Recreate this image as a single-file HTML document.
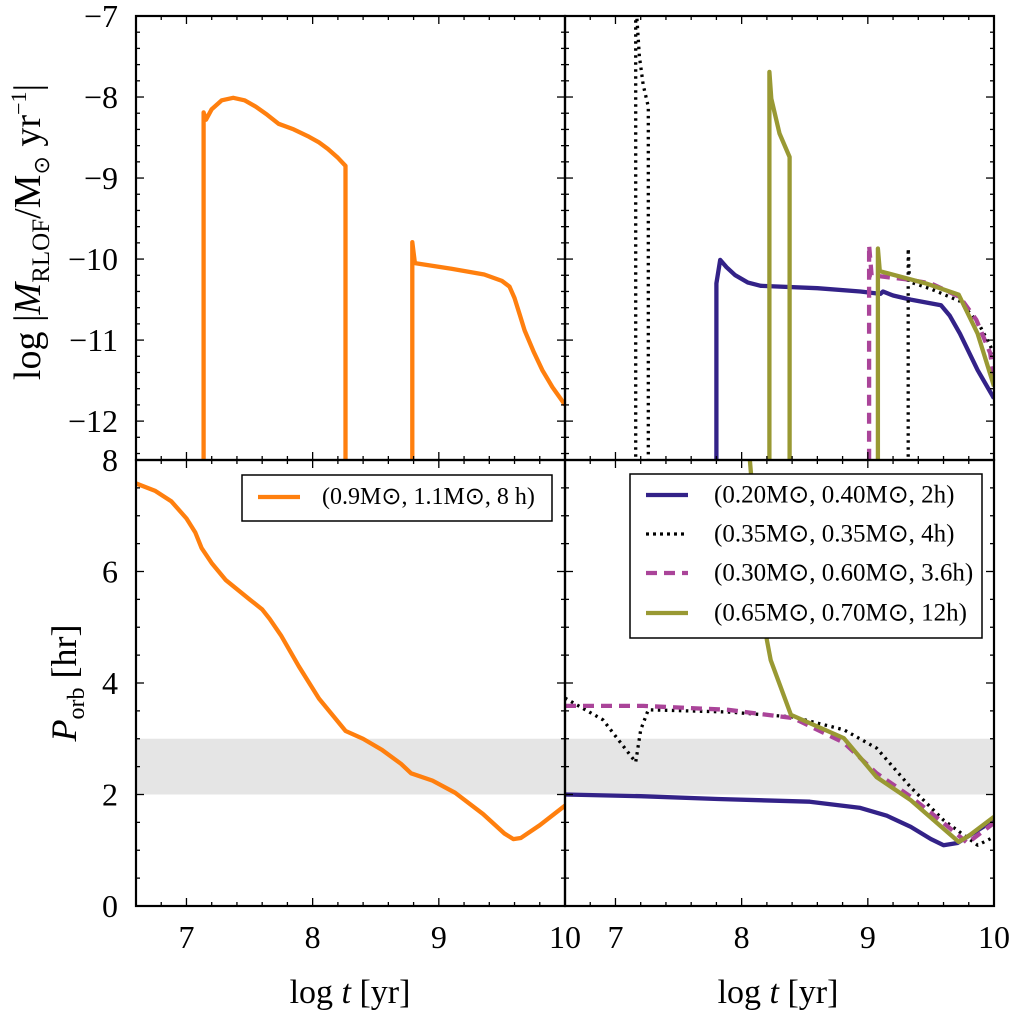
<!DOCTYPE html>
<html><head><meta charset="utf-8">
<style>
html,body{margin:0;padding:0;background:#fff;}
svg{display:block;font-family:"Liberation Serif",serif;}
</style></head>
<body>
<svg id="fig" width="1010" height="1013" viewBox="0 0 1010 1013" xmlns="http://www.w3.org/2000/svg">
<defs>
<clipPath id="clipTL"><rect x="136" y="16" width="429" height="444"/></clipPath>
<clipPath id="clipTR"><rect x="565" y="16" width="429" height="444"/></clipPath>
<clipPath id="clipBL"><rect x="136" y="460" width="429" height="446"/></clipPath>
<clipPath id="clipBR"><rect x="565" y="460" width="429" height="446"/></clipPath>
</defs>
<g id="layer"></g>
</svg>
<script>
// ---- data ----
const xTicks = [7, 8, 9, 10];
const yTicksTop = [-7, -8, -9, -10, -11, -12];
const yTicksBot = [0, 2, 4, 6, 8];
const gapBand = [2, 3];
// orange (0.9, 1.1, 8h)
const orangeMdotA = [[7.136,-12.7],[7.136,-8.19],[7.155,-8.28],[7.2,-8.15],[7.28,-8.04],[7.37,-8.01],[7.46,-8.04],[7.55,-8.12],[7.64,-8.22],[7.73,-8.33],[7.85,-8.4],[7.97,-8.49],[8.05,-8.56],[8.12,-8.64],[8.2,-8.75],[8.26,-8.85],[8.26,-12.7]];
const orangeMdotB = [[8.79,-12.7],[8.79,-9.79],[8.81,-10.05],[9.1,-10.12],[9.36,-10.19],[9.5,-10.27],[9.56,-10.34],[9.6,-10.48],[9.64,-10.68],[9.68,-10.88],[9.75,-11.14],[9.82,-11.37],[9.9,-11.58],[10,-11.8]];
const orangeP = [[6.6,7.58],[6.75,7.45],[6.88,7.26],[7.0,6.95],[7.07,6.7],[7.12,6.42],[7.2,6.15],[7.31,5.85],[7.5,5.5],[7.6,5.32],[7.66,5.15],[7.75,4.85],[7.89,4.3],[8.05,3.72],[8.26,3.14],[8.4,3.0],[8.55,2.8],[8.7,2.55],[8.78,2.38],[8.95,2.25],[9.13,2.03],[9.35,1.65],[9.52,1.3],[9.59,1.2],[9.65,1.22],[9.8,1.45],[10,1.8]];
// blue (0.20, 0.40, 2h)
const blueMdot = [[7.8,-12.7],[7.80,-10.3],[7.83,-10.01],[7.88,-10.1],[7.95,-10.2],[8.05,-10.29],[8.15,-10.33],[8.6,-10.36],[8.94,-10.4],[9.1,-10.43],[9.12,-10.4],[9.2,-10.45],[9.34,-10.5],[9.58,-10.57],[9.65,-10.7],[9.73,-10.92],[9.87,-11.37],[10,-11.72]];
const blueP = [[6.6,2.0],[7.2,1.97],[7.81,1.92],[8.54,1.87],[8.94,1.76],[9.15,1.62],[9.34,1.42],[9.5,1.2],[9.6,1.09],[9.71,1.13],[10,1.54]];
// black dotted (0.35, 0.35, 4h)
const blackMdotA = [[7.16,-12.7],[7.16,-6.8],[7.19,-7.5],[7.22,-7.85],[7.26,-8.12],[7.26,-12.7]];
const blackMdotB = [[9.32,-12.7],[9.32,-9.87],[9.33,-10.28],[9.5,-10.37],[9.73,-10.52],[9.88,-10.8],[10,-11.16]];
const blackP = [[6.6,3.73],[6.9,3.34],[7.16,2.58],[7.2,3.16],[7.26,3.52],[7.89,3.48],[8.41,3.39],[8.81,3.16],[9.07,2.83],[9.34,2.13],[9.6,1.54],[9.87,1.09],[10,1.24]];
// magenta dashed (0.30, 0.60, 3.6h)
const magMdot = [[9.01,-12.7],[9.01,-9.83],[9.03,-10.2],[9.3,-10.25],[9.5,-10.3],[9.73,-10.47],[9.86,-10.75],[9.97,-11.16],[10,-11.49]];
const magP = [[6.6,3.59],[7.22,3.59],[7.89,3.52],[8.41,3.37],[8.81,2.93],[9.07,2.38],[9.34,1.96],[9.6,1.49],[9.79,1.13],[10,1.49]];
// olive (0.65, 0.70, 12h)
const oliveMdotA = [[8.22,-12.7],[8.22,-7.69],[8.235,-8.02],[8.3,-8.45],[8.38,-8.74],[8.38,-12.7]];
const oliveMdotB = [[9.08,-12.7],[9.08,-9.87],[9.095,-10.15],[9.46,-10.3],[9.72,-10.44],[9.87,-10.92],[10,-11.57]];
const oliveP = [[8.05,8.4],[8.12,6.5],[8.2,4.77],[8.23,4.41],[8.39,3.43],[8.81,3.01],[9.07,2.31],[9.34,1.9],[9.72,1.15],[9.8,1.26],[10,1.6]];

// ---- axes ----
const XMIN=6.6, XMAX=10, TOPMIN=-12.48, TOPMAX=-7, BOTMIN=0, BOTMAX=8;
const panels = {
  TL:{x0:136,x1:565,y0:16,y1:460,ymin:TOPMIN,ymax:TOPMAX},
  TR:{x0:565,x1:994,y0:16,y1:460,ymin:TOPMIN,ymax:TOPMAX},
  BL:{x0:136,x1:565,y0:460,y1:906,ymin:BOTMIN,ymax:BOTMAX},
  BR:{x0:565,x1:994,y0:460,y1:906,ymin:BOTMIN,ymax:BOTMAX}
};
function sx(p,v){return p.x0+(v-XMIN)/(XMAX-XMIN)*(p.x1-p.x0);}
function sy(p,v){return p.y1-(v-p.ymin)/(p.ymax-p.ymin)*(p.y1-p.y0);}
const NS="http://www.w3.org/2000/svg";
const layer=document.getElementById('layer');
function mk(tag,attrs,parent){const e=document.createElementNS(NS,tag);for(const k in attrs)e.setAttribute(k,attrs[k]);(parent||layer).appendChild(e);return e;}

function band(pk){
  const p=panels[pk];
  const r=mk('rect',{x:p.x0,y:sy(p,gapBand[1]),width:p.x1-p.x0,height:sy(p,gapBand[0])-sy(p,gapBand[1]),fill:'#e5e5e5'});
  
  
}
band('BL');band('BR');

function line(pk,data,color,dash,name,w){
  const p=panels[pk];
  const d=data.map((q,i)=>(i?'L':'M')+sx(p,q[0]).toFixed(1)+','+sy(p,q[1]).toFixed(1)).join(' ');
  const a={d:d,fill:'none',stroke:color,'stroke-width':w||4.3,'stroke-linejoin':'round','clip-path':'url(#clip'+pk+')'};
  if(dash)a['stroke-dasharray']=dash;
  const e=mk('path',a);
  
  
}
const OR='#ff7f0e',BL='#332288',MG='#aa4499',OL='#999933';
line('TL',orangeMdotA,OR,null,'orange-mdot-line-1');
line('TL',orangeMdotB,OR,null,'orange-mdot-line-2');
line('BL',orangeP,OR,null,'orange-porb-line');
line('TR',blueMdot,BL,null,'blue-mdot-line');
line('TR',blackMdotA,'#000','2.5,4.5','black-mdot-line-1',3.3);
line('TR',blackMdotB,'#000','2.5,4.5','black-mdot-line-2',3.3);
line('TR',magMdot,MG,'11,7','magenta-mdot-line');
line('TR',oliveMdotA,OL,null,'olive-mdot-line-1');
line('TR',oliveMdotB,OL,null,'olive-mdot-line-2');
line('BR',blueP,BL,null,'blue-porb-line');
line('BR',blackP,'#000','2.5,4.5','black-porb-line',3.3);
line('BR',magP,MG,'11,7','magenta-porb-line');
line('BR',oliveP,OL,null,'olive-porb-line');

// frames & ticks
function frame(pk,yMajor,yMinorStep){
  const p=panels[pk];
  const g=mk('g',{stroke:'#000','stroke-width':1.3});
  
  
  for(let v=6.6;v<=10.001;v+=0.2){
    const x=sx(p,v), maj=Math.abs(v-Math.round(v))<0.01, L=maj?8:4;
    mk('line',{x1:x,y1:p.y1,x2:x,y2:p.y1-L},g);
    mk('line',{x1:x,y1:p.y0,x2:x,y2:p.y0+L},g);
  }
  for(let v=Math.ceil(p.ymin/yMinorStep)*yMinorStep;v<=p.ymax+0.001;v+=yMinorStep){
    const y=sy(p,v), maj=yMajor.some(t=>Math.abs(t-v)<0.01), L=maj?8:4;
    mk('line',{x1:p.x0,y1:y,x2:p.x0+L,y2:y},g);
    mk('line',{x1:p.x1,y1:y,x2:p.x1-L,y2:y},g);
  }
  mk('rect',{x:p.x0,y:p.y0,width:p.x1-p.x0,height:p.y1-p.y0,fill:'none','stroke-width':2.2},g);
}
frame('TL',yTicksTop,0.2);frame('TR',yTicksTop,0.2);
frame('BL',yTicksBot,0.5);frame('BR',yTicksBot,0.5);

function txt(x,y,s,anchor,size,name){
  const t=mk('text',{x:x,y:y,'text-anchor':anchor,'font-size':size,'dominant-baseline':'central',fill:'#000'});
  t.textContent=s;
  
  
  return t;
}
yTicksTop.forEach(v=>{txt(118,sy(panels.TL,v),'\u2212'+Math.abs(v),'end',32,'y-tick-top');});
yTicksBot.forEach(v=>{txt(118,sy(panels.BL,v),String(v),'end',32,'y-tick-bottom');});
['BL','BR'].forEach(pk=>{xTicks.forEach(v=>{txt(sx(panels[pk],v),937,String(v),'middle',32,'x-tick');});});

// axis titles
function rich(x,y,parts,size,name,rot){
  const t=mk('text',{x:x,y:y,'text-anchor':'middle','font-size':size,fill:'#000'});
  if(rot)t.setAttribute('transform','rotate(-90 '+x+' '+y+')');
  
  
  parts.forEach(q=>{const s=document.createElementNS(NS,'tspan');s.textContent=q[0];if(q[1])for(const k in q[1])s.setAttribute(k,q[1][k]);t.appendChild(s);});
  return t;
}
rich(350,1003,[['log  '],['t',{'font-style':'italic'}],[' [yr]']],34,'x-axis-title-left');
rich(778,1003,[['log  '],['t',{'font-style':'italic'}],[' [yr]']],34,'x-axis-title-right');
rich(40,232,[['log  |'],['M',{'font-style':'italic'}],['RLOF',{'font-size':25,'dy':9}],['/M',{'dy':-9}],['\u2299',{'font-size':22,'dy':9}],[' yr',{'dy':-9}],['\u22121',{'font-size':22,'dy':-14}],['|',{'dy':14}]],38,'y-axis-title-top',true);
rich(76,683,[['P',{'font-style':'italic'}],['orb',{'font-size':24,'dy':8}],[' [hr]',{'dy':-8}]],36,'y-axis-title-bottom',true);

// legends
function legend(x,y,w,h,entries,name){
  const g=mk('g',{});
  
  
  mk('rect',{x:x,y:y,width:w,height:h,fill:'#fff',stroke:'#000','stroke-width':1.5},g);
  entries.forEach(e=>{
    const a={x1:e.lx,y1:e.y,x2:e.lx+42,y2:e.y,stroke:e.c,'stroke-width':e.w||4.3};
    if(e.d)a['stroke-dasharray']=e.d;
    mk('line',a,g);
    const t=mk('text',{x:e.tx,y:e.y,'font-size':e.fs||25,'dominant-baseline':'central',fill:'#000'},g);
    t.textContent=e.s;
    
    
  });
}
legend(242,475,310,46,[{lx:258,tx:322,y:497,c:OR,fs:24,s:'(0.9M\u2299, 1.1M\u2299, 8 h)'}],'legend-left');
legend(630,474,352,164,[
 {lx:646,tx:714,y:495,c:BL,s:'(0.20M\u2299, 0.40M\u2299, 2h)'},
 {lx:646,tx:714,y:534,c:'#000',d:'3,4',w:3.3,s:'(0.35M\u2299, 0.35M\u2299, 4h)'},
 {lx:646,tx:714,y:573,c:MG,d:'11,7',s:'(0.30M\u2299, 0.60M\u2299, 3.6h)'},
 {lx:646,tx:714,y:613,c:OL,s:'(0.65M\u2299, 0.70M\u2299, 12h)'}
],'legend-right');
</script>
</body></html>
